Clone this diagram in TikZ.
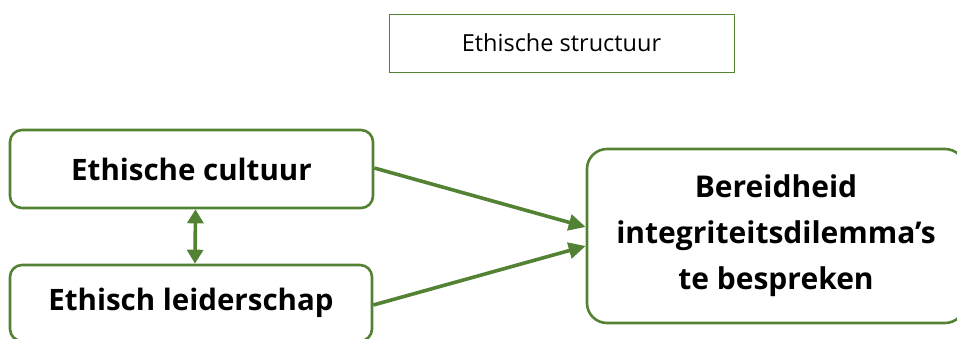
\documentclass[tikz,border=0pt]{standalone}
\usepackage{fontspec}
\setmainfont{Open Sans}
\usetikzlibrary{arrows.meta}
\definecolor{lgreen}{HTML}{548235}
\tikzset{
  thinbox/.style={draw=lgreen, line width=1pt, rectangle, inner sep=0pt, font=\fontsize{23.5}{28}\selectfont},
  roundbox/.style={draw=lgreen, line width=2.6pt, rectangle, rounded corners=12pt, inner sep=0pt, align=center, font=\bfseries\fontsize{29.5}{46}\selectfont},
  link/.style={draw=lgreen, line width=3.6pt, -{Triangle[length=17pt,width=16pt]}},
  duallink/.style={draw=lgreen, line width=3.6pt, {Triangle[length=14pt,width=16pt]}-{Triangle[length=14pt,width=16pt]}}
}
\begin{document}
\begin{tikzpicture}[x=1pt,y=-1pt]
\useasboundingbox (0,0) rectangle (957,338);
\clip (0,0) rectangle (957,338);
\node[thinbox, minimum width=345pt, minimum height=58pt] (top) at (561.5,43) {Ethische structuur};
\node[roundbox, minimum width=363pt, minimum height=78pt] (c1) at (191.5,169) {Ethische cultuur};
\node[roundbox, minimum width=362pt, minimum height=76pt] (c2) at (191,303) {Ethisch leiderschap};
\node[roundbox, rounded corners=20pt, minimum width=378pt, minimum height=174pt, font=\bfseries\fontsize{30}{46}\selectfont] (b) at (776,236) {Bereidheid\\integriteitsdilemma’s\\te bespreken};
\draw[link] ([yshift=1pt]c1.east) -- ([yshift=9pt]b.west);
\draw[link] ([yshift=-2pt]c2.east) -- ([yshift=-10pt]b.west);
\draw[duallink] ([xshift=4pt]c1.south) -- ([xshift=4pt]c2.north);
\end{tikzpicture}
\end{document}
